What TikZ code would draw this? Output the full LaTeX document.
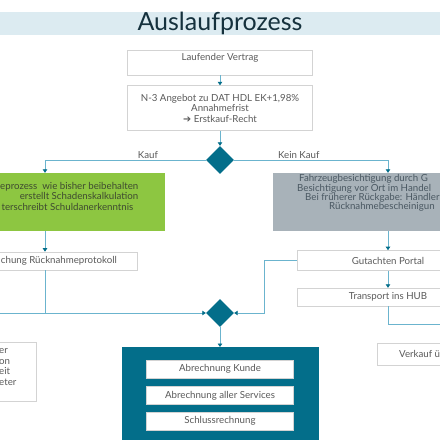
\documentclass[tikz,border=0pt]{standalone}
\usepackage{fontspec}
\setmainfont{Lato}
\newfontfamily\symfont{DejaVu Sans}
\usetikzlibrary{positioning,shapes.geometric,arrows.meta}
\definecolor{bandblue}{HTML}{DCEBF1}
\definecolor{titleink}{HTML}{15313D}
\definecolor{petrol}{HTML}{036E8A}
\definecolor{flowblue}{HTML}{6BB4CE}
\definecolor{kaufgreen}{HTML}{8DC641}
\definecolor{slate}{HTML}{A8B2B9}
\definecolor{boxline}{HTML}{D3D3D3}
\definecolor{ink}{HTML}{5A5A5A}
\definecolor{slateink}{HTML}{4A5862}
\definecolor{greenink}{HTML}{3E4A30}

\begin{document}
\begin{tikzpicture}[x=1pt, y=-1pt, font=\fontsize{9.7}{10.5}\selectfont,
  proc/.style={draw=boxline, fill=white, text=ink, line width=0.6pt, inner sep=0pt, align=center},
  panel/.style={inner sep=0pt, minimum height=58pt},
  decision/.style={diamond, fill=petrol, minimum width=28pt, minimum height=28pt, inner sep=0pt},
  flow/.style={draw=flowblue, line width=0.8pt, -{Triangle[width=4.5pt,length=3.5pt,color=petrol]}},
  link/.style={draw=flowblue, line width=0.8pt}]
\useasboundingbox (0,0) rectangle (440,440);
\fill[white] (0,0) rectangle (440,440);
\fill[bandblue] (0,12) rectangle (440,35);
\node[text=titleink, font=\fontsize{25}{30}\selectfont] (title) at (220,23.5) {Auslaufprozess};

\node[proc, minimum width=185pt, minimum height=25pt,
  label={[anchor=north, text=ink, inner sep=3pt]north:Laufender Vertrag}] (vertrag) at (220,62.5) {};
\node[proc, minimum width=185pt, minimum height=45pt] (angebot) [below=10pt of vertrag]
  {N-3 Angebot zu DAT HDL EK+1,98\%\\Annahmefrist\\{\symfont\char"2794}~Erstkauf-Recht};
\node[decision] (d1) at (220,160) {};

% Kauf
\node[panel, fill=kaufgreen, minimum width=240pt] (kaufbox) at (45,202) {};
\node[text=greenink, anchor=east, align=right, inner sep=0pt] (kauftext) at (138.5,196)
  {eprozess~ wie bisher beibehalten\\erstellt Schadenskalkulation\hspace*{14pt}\\terschreibt Schuldanerkenntnis\hspace*{5pt}};
\node[proc, minimum width=184pt, minimum height=18pt] (protokoll) at (45,261) {};
\node[text=ink, anchor=east, inner sep=0pt] (protokolltext) at (117,261) {chung Rücknahmeprotokoll};

% Kein Kauf
\node[panel, fill=slate, minimum width=230pt] (besichtigung) at (388,202) {};
\node[text=slateink, anchor=west, align=left, inner sep=0pt, font=\fontsize{9.7}{9.2}\selectfont] (besichtigungtext) at (297,193)
  {\hspace*{2pt}Fahrzeugbesichtigung durch G\\Besichtigung vor Ort im Handel\\\hspace*{8pt}Bei früherer Rückgabe: Händler\\\hspace*{32pt}Rücknahmebescheinigun};
\node[proc, minimum width=182pt, minimum height=20pt] (gutachten) [below=19pt of besichtigung] {Gutachten Portal};
\node[proc, minimum width=182pt, minimum height=18pt] (transport) [below=17pt of gutachten] {Transport ins HUB};
\coordinate (hubout) at (440,324);
\node[proc, minimum width=140pt, minimum height=22pt, anchor=west] (verkauf) at (377,354) {};
\node[text=ink, anchor=west, inner sep=0pt] (verkauftext) at (399,354) {Verkauf ü};

\node[decision] (d2) at (220,313) {};
\coordinate (zulauf) at (0,313);
\node[proc, minimum width=80pt, minimum height=59pt, anchor=east] (links) at (37,371.5) {};
\node[text=ink, anchor=west, align=left, inner sep=0pt] (linkstext) at (-1,367) {er\\on\\eit\\eter};

% Abrechnung
\node[fill=petrol, minimum width=197pt, minimum height=100pt, anchor=north, inner sep=0pt] (abrechnung) at (220,347) {};
\node[proc, minimum width=147pt, minimum height=18pt] (kunde) at (220,369) {Abrechnung Kunde};
\node[proc, minimum width=147pt, minimum height=18pt] (services) [below=8pt of kunde] {Abrechnung aller Services};
\node[proc, minimum width=147pt, minimum height=18pt] (schluss) [below=7pt of services] {Schlussrechnung};

\draw[flow] (vertrag) -- (angebot);
\draw[flow] (angebot) -- (d1);
\draw[flow] (d1.west) -| node[pos=0.18, above, inner sep=1.5pt, text=ink] {Kauf} (kaufbox.north);
\draw[flow] (d1.east) -| node[pos=0.21, above, inner sep=1.5pt, text=ink] {Kein Kauf} (besichtigung.north);
\draw[flow] (kaufbox) -- (protokoll);
\draw[flow] (protokoll.south) |- (d2.west);
\draw[link] (zulauf) -- (protokoll.south |- d2.west);
\draw[flow] (besichtigung) -- (gutachten);
\draw[flow] (gutachten) -- (transport);
\draw[link] (transport.south) |- (hubout);
\draw[flow] (gutachten.west) -- ++(-32,0) |- (d2.east);
\draw[flow] (d2) -- (abrechnung);
\end{tikzpicture}
\end{document}
